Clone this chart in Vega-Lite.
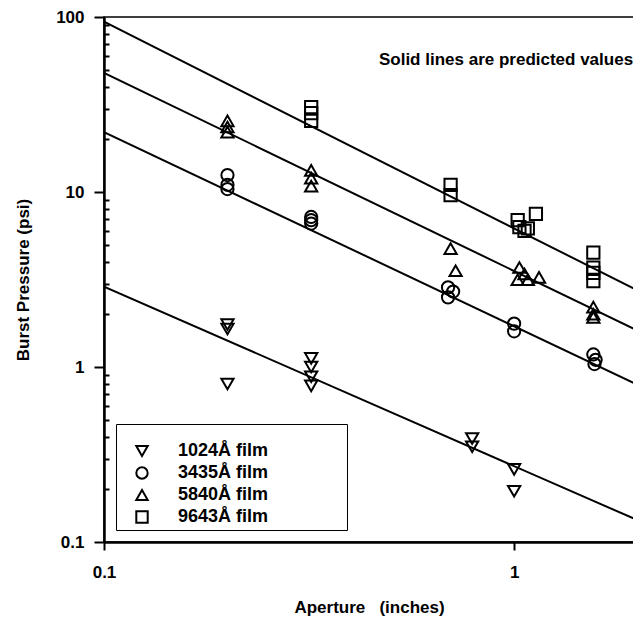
{
  "$schema": "https://vega.github.io/schema/vega-lite/v6.json",
  "width": 530,
  "height": 525,
  "autosize": {"type": "none"},
  "padding": {"left": 104, "top": 17, "right": 0, "bottom": 78},
  "background": "white",
  "config": {
    "font": "Liberation Sans",
    "view": {"stroke": "black", "strokeWidth": 1.5},
    "axis": {
      "domainColor": "black", "domainWidth": 2.5,
      "tickColor": "black", "tickWidth": 2, "tickOpacity": 1,
      "labelColor": "black", "labelFont": "Liberation Sans", "labelFontWeight": "bold", "labelFontSize": 17,
      "titleColor": "black", "titleFont": "Liberation Sans", "titleFontWeight": "bold", "titleFontSize": 17,
      "grid": false, "labelFlush": false
    }
  },
  "datasets": {
    "predicted": [
      {"film": "9643Å film", "aperture": 0.1, "pressure": 94},
      {"film": "9643Å film", "aperture": 1.96, "pressure": 2.8},
      {"film": "5840Å film", "aperture": 0.1, "pressure": 48},
      {"film": "5840Å film", "aperture": 1.96, "pressure": 1.65},
      {"film": "3435Å film", "aperture": 0.1, "pressure": 22},
      {"film": "3435Å film", "aperture": 1.96, "pressure": 0.81},
      {"film": "1024Å film", "aperture": 0.1, "pressure": 2.88},
      {"film": "1024Å film", "aperture": 1.96, "pressure": 0.136}
    ],
    "measured": [
      {"film": "1024Å film", "aperture": 0.2, "pressure": 1.75},
      {"film": "1024Å film", "aperture": 0.2, "pressure": 1.65},
      {"film": "1024Å film", "aperture": 0.2, "pressure": 0.8},
      {"film": "1024Å film", "aperture": 0.32, "pressure": 1.12},
      {"film": "1024Å film", "aperture": 0.32, "pressure": 1.0},
      {"film": "1024Å film", "aperture": 0.32, "pressure": 0.88},
      {"film": "1024Å film", "aperture": 0.32, "pressure": 0.78},
      {"film": "1024Å film", "aperture": 0.79, "pressure": 0.39},
      {"film": "1024Å film", "aperture": 0.79, "pressure": 0.35},
      {"film": "1024Å film", "aperture": 1.0, "pressure": 0.26},
      {"film": "1024Å film", "aperture": 1.0, "pressure": 0.195},
      {"film": "3435Å film", "aperture": 0.2, "pressure": 12.5},
      {"film": "3435Å film", "aperture": 0.2, "pressure": 11.0},
      {"film": "3435Å film", "aperture": 0.2, "pressure": 10.4},
      {"film": "3435Å film", "aperture": 0.32, "pressure": 7.2},
      {"film": "3435Å film", "aperture": 0.32, "pressure": 6.9},
      {"film": "3435Å film", "aperture": 0.32, "pressure": 6.6},
      {"film": "3435Å film", "aperture": 0.69, "pressure": 2.85},
      {"film": "3435Å film", "aperture": 0.71, "pressure": 2.7},
      {"film": "3435Å film", "aperture": 0.69, "pressure": 2.5},
      {"film": "3435Å film", "aperture": 1.0, "pressure": 1.77},
      {"film": "3435Å film", "aperture": 1.0, "pressure": 1.6},
      {"film": "3435Å film", "aperture": 1.56, "pressure": 1.18},
      {"film": "3435Å film", "aperture": 1.58, "pressure": 1.1},
      {"film": "3435Å film", "aperture": 1.57, "pressure": 1.04},
      {"film": "5840Å film", "aperture": 0.2, "pressure": 25.5},
      {"film": "5840Å film", "aperture": 0.2, "pressure": 23.5},
      {"film": "5840Å film", "aperture": 0.2, "pressure": 22.0},
      {"film": "5840Å film", "aperture": 0.32, "pressure": 13.3},
      {"film": "5840Å film", "aperture": 0.32, "pressure": 12.0},
      {"film": "5840Å film", "aperture": 0.32, "pressure": 10.8},
      {"film": "5840Å film", "aperture": 0.7, "pressure": 4.75},
      {"film": "5840Å film", "aperture": 0.72, "pressure": 3.55},
      {"film": "5840Å film", "aperture": 1.03, "pressure": 3.7},
      {"film": "5840Å film", "aperture": 1.06, "pressure": 3.4},
      {"film": "5840Å film", "aperture": 1.02, "pressure": 3.15},
      {"film": "5840Å film", "aperture": 1.08, "pressure": 3.15},
      {"film": "5840Å film", "aperture": 1.15, "pressure": 3.25},
      {"film": "5840Å film", "aperture": 1.56, "pressure": 2.2},
      {"film": "5840Å film", "aperture": 1.56, "pressure": 2.0},
      {"film": "5840Å film", "aperture": 1.56, "pressure": 1.92},
      {"film": "9643Å film", "aperture": 0.32, "pressure": 30.5},
      {"film": "9643Å film", "aperture": 0.32, "pressure": 28.2},
      {"film": "9643Å film", "aperture": 0.32, "pressure": 25.5},
      {"film": "9643Å film", "aperture": 0.7, "pressure": 11.0},
      {"film": "9643Å film", "aperture": 0.7, "pressure": 9.6},
      {"film": "9643Å film", "aperture": 1.02, "pressure": 6.9},
      {"film": "9643Å film", "aperture": 1.03, "pressure": 6.3},
      {"film": "9643Å film", "aperture": 1.06, "pressure": 6.0},
      {"film": "9643Å film", "aperture": 1.08, "pressure": 6.2},
      {"film": "9643Å film", "aperture": 1.13, "pressure": 7.5},
      {"film": "9643Å film", "aperture": 1.56, "pressure": 4.5},
      {"film": "9643Å film", "aperture": 1.56, "pressure": 3.7},
      {"film": "9643Å film", "aperture": 1.56, "pressure": 3.45},
      {"film": "9643Å film", "aperture": 1.56, "pressure": 3.1}
    ],
    "note": [{"text": "Solid lines are predicted values"}]
  },
  "layer": [
    {
      "data": {"name": "predicted"},
      "mark": {"type": "line", "color": "black", "strokeWidth": 2, "clip": true},
      "encoding": {
        "x": {
          "field": "aperture", "type": "quantitative",
          "scale": {"type": "log", "domain": [0.1, 1.96], "nice": false},
          "axis": {
            "title": "Aperture\u00a0\u00a0\u00a0(inches)",
            "values": [0.1, 1], "format": "~g",
            "tickSize": 8, "labelPadding": 14, "titlePadding": 19
          }
        },
        "y": {
          "field": "pressure", "type": "quantitative",
          "scale": {"type": "log", "domain": [0.1, 100], "nice": false},
          "axis": {
            "title": "Burst Pressure (psi)",
            "values": [0.1, 0.2, 0.3, 0.4, 0.5, 0.6, 0.7, 0.8, 0.9, 1, 2, 3, 4, 5, 6, 7, 8, 9, 10, 20, 30, 40, 50, 60, 70, 80, 90, 100],
            "format": "~g",
            "labelExpr": "abs(log(datum.value)/LN10 - round(log(datum.value)/LN10)) < 0.001 ? datum.label : ''",
            "tickSize": {"condition": {"test": "abs(log(datum.value)/LN10 - round(log(datum.value)/LN10)) < 0.001", "value": 10}, "value": -5},
            "labelPadding": 10, "titlePadding": 23
          }
        },
        "detail": {"field": "film", "type": "nominal"}
      }
    },
    {
      "data": {"name": "measured"},
      "mark": {"type": "point", "filled": false, "color": "black", "opacity": 1, "strokeWidth": 2, "size": 150},
      "encoding": {
        "x": {"field": "aperture", "type": "quantitative"},
        "y": {"field": "pressure", "type": "quantitative"},
        "shape": {
          "field": "film", "type": "nominal",
          "scale": {"domain": ["1024Å film", "3435Å film", "5840Å film", "9643Å film"], "range": ["triangle-down", "circle", "triangle-up", "square"]},
          "legend": {
            "title": "\u200b", "titleFontSize": 11, "titlePadding": 4,
            "orient": "none", "legendX": 12, "legendY": 407,
            "strokeColor": "black", "fillColor": "white",
            "padding": 3, "symbolOffset": 14, "labelOffset": 27, "rowPadding": 3,
            "symbolSize": 130, "symbolStrokeWidth": 2, "symbolStrokeColor": "black", "symbolFillColor": "transparent", "symbolOpacity": 1,
            "labelFont": "Liberation Sans", "labelFontWeight": "bold", "labelFontSize": 18, "labelColor": "black",
            "labelLimit": 400,
            "labelExpr": "datum.label + '\u00a0\u00a0\u00a0\u00a0\u00a0\u00a0\u00a0\u00a0\u00a0\u00a0\u00a0\u00a0\u00a0\u00a0\u00a0\u200b'"
          }
        }
      }
    },
    {
      "data": {"name": "note"},
      "mark": {"type": "text", "align": "right", "baseline": "middle", "fontSize": 17, "fontWeight": "bold", "color": "black", "font": "Liberation Sans"},
      "encoding": {
        "x": {"datum": 1.95, "type": "quantitative"},
        "y": {"datum": 57, "type": "quantitative"},
        "text": {"field": "text"}
      }
    }
  ]
}
